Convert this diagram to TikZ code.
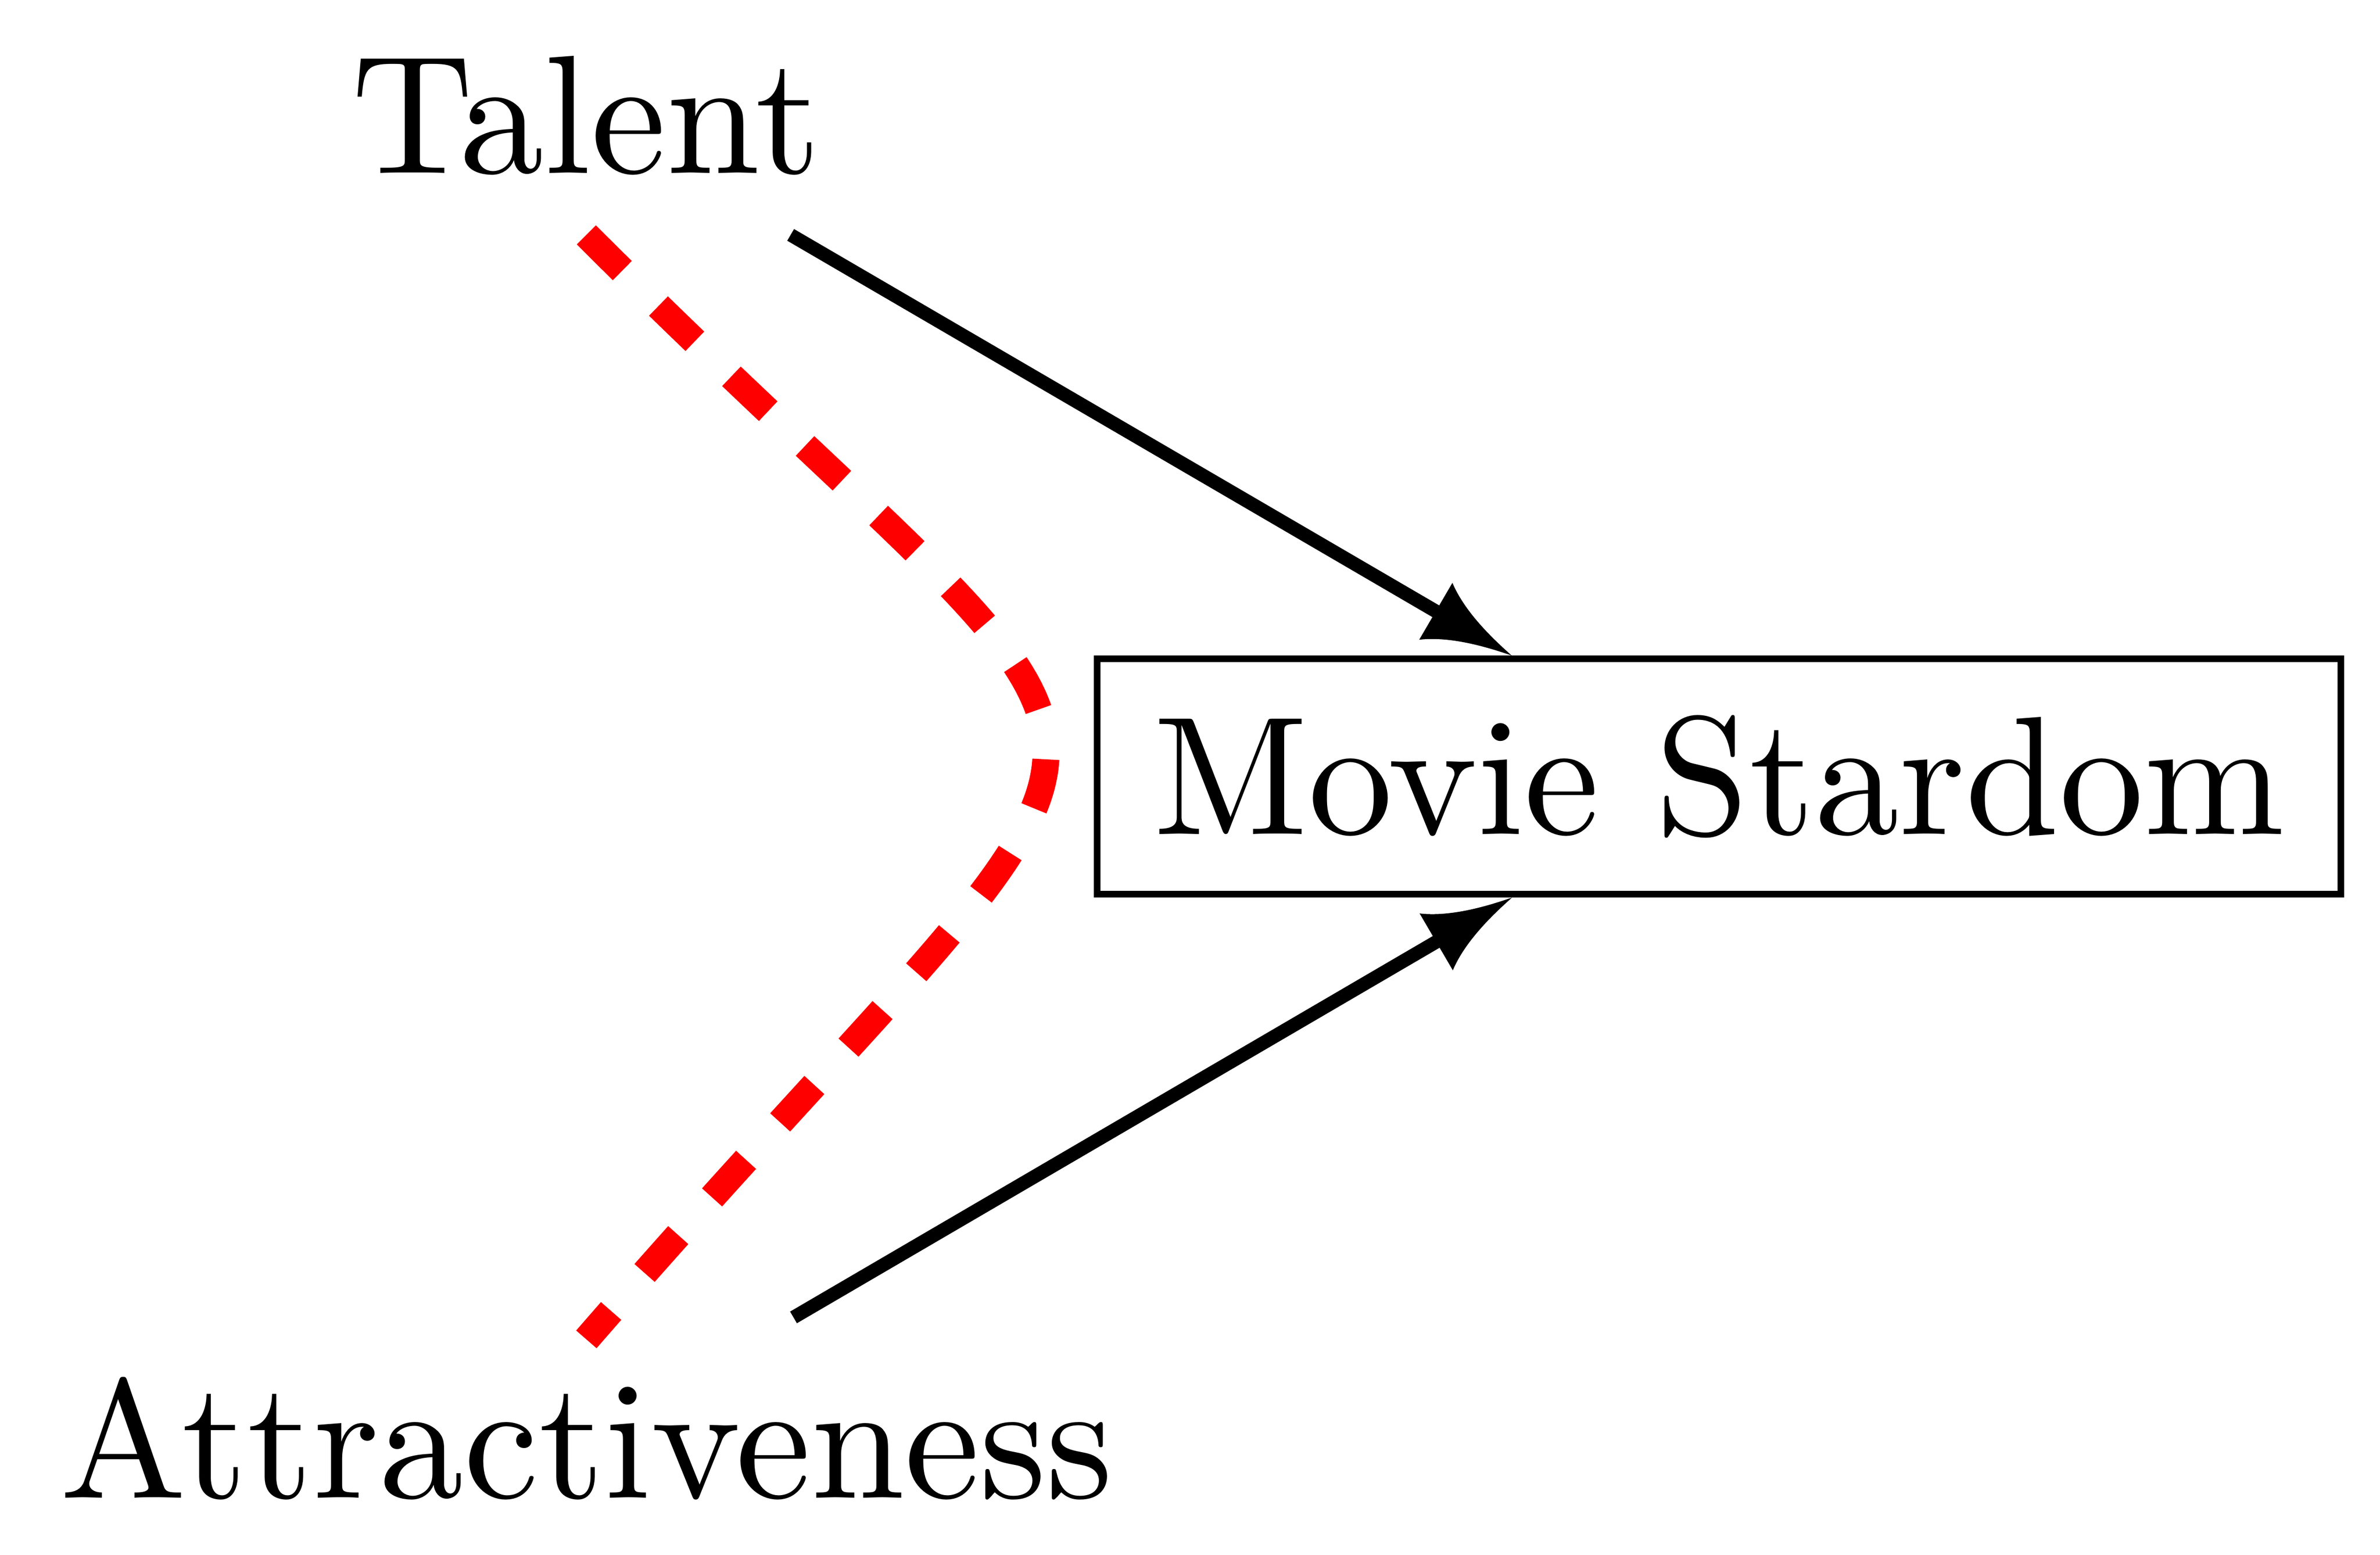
\documentclass[tikz,border=0pt]{standalone}
\makeatletter
\pgfarrowsdeclare{clatex}{clatex}
{%
  \pgfutil@tempdima=0.28pt%
  \advance\pgfutil@tempdima by.3\pgflinewidth%
  \pgfarrowsleftextend{+-4\pgfutil@tempdima}%
  \pgfarrowsrightextend{+6\pgfutil@tempdima}%
}
{%
  \pgfutil@tempdima=0.28pt%
  \advance\pgfutil@tempdima by.3\pgflinewidth%
  \pgfsetdash{}{+0pt}%
  \pgfpathmoveto{\pgfqpoint{6\pgfutil@tempdima}{0pt}}%
  \pgfpathcurveto{\pgfqpoint{3.5\pgfutil@tempdima}{.5\pgfutil@tempdima}}%
    {\pgfqpoint{-1\pgfutil@tempdima}{1.5\pgfutil@tempdima}}%
    {\pgfqpoint{-4\pgfutil@tempdima}{3.75\pgfutil@tempdima}}%
  \pgfpathlineto{\pgfqpoint{-4\pgfutil@tempdima}{-3.75\pgfutil@tempdima}}%
  \pgfpathcurveto{\pgfqpoint{-1\pgfutil@tempdima}{-1.5\pgfutil@tempdima}}%
    {\pgfqpoint{3.5\pgfutil@tempdima}{-.5\pgfutil@tempdima}}%
    {\pgfqpoint{6\pgfutil@tempdima}{0pt}}%
  \pgfpathclose
  \pgfusepathqfill
}
\makeatother
\begin{document}
\begin{tikzpicture}[x=0.0899pt,y=-0.0899pt,
  lbl/.style={inner sep=0.3333em, font=\normalsize},
  boxnode/.style={draw, line width=0.4pt},
  causal/.style={-clatex, thick},
  confound/.style={red, dashed, ultra thick}]
\useasboundingbox (0,0) rectangle (1568,1024);
\node[lbl] (t) at (386.3,76.2) {Talent};
\node[lbl] (a) at (386.3,947.5) {Attractiveness};
\node[lbl,boxnode] (m) at (1132.5,511.5) {Movie Stardom};
\draw[causal] (t) -- (m);
\draw[causal] (a) -- (m);
\draw[confound] (t.south) .. controls +(36.3pt,-36.3pt) and +(36.3pt,41.8pt) .. ([yshift=-1.3pt]a.north);
\end{tikzpicture}
\end{document}
